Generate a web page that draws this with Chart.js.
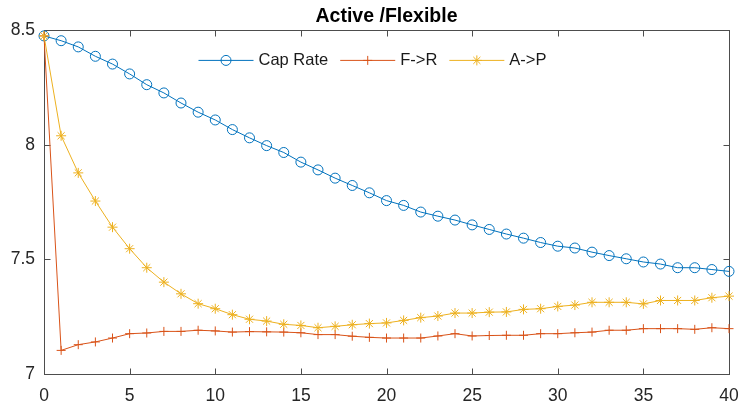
<!DOCTYPE html>
<html>
<head>
<meta charset="utf-8">
<script src="https://cdn.jsdelivr.net/npm/chart.js@4.4.0/dist/chart.umd.min.js"></script>
<style>
  html, body { margin:0; padding:0; background:#fff; }
  #wrap { width:741px; height:409px; }
</style>
</head>
<body>
<div id="wrap"><canvas id="chartCap" width="741" height="409"></canvas></div>
<script>
// Données
const periodes = [0,1,2,3,4,5,6,7,8,9,10,11,12,13,14,15,16,17,18,19,20,21,22,23,24,25,26,27,28,29,30,31,32,33,34,35,36,37,38,39,40];
const capRate = [8.476,8.455,8.428,8.387,8.353,8.310,8.263,8.227,8.183,8.143,8.109,8.067,8.031,7.997,7.967,7.925,7.891,7.855,7.823,7.791,7.757,7.736,7.707,7.689,7.672,7.651,7.631,7.611,7.593,7.574,7.558,7.550,7.532,7.517,7.503,7.489,7.480,7.464,7.464,7.456,7.448];
const fVersR = [8.476,7.103,7.128,7.140,7.157,7.176,7.179,7.186,7.186,7.191,7.188,7.183,7.185,7.184,7.183,7.180,7.172,7.172,7.165,7.160,7.157,7.157,7.157,7.166,7.176,7.166,7.168,7.169,7.169,7.176,7.176,7.180,7.183,7.191,7.191,7.198,7.198,7.198,7.195,7.202,7.198];
const aVersP = [8.476,8.040,7.878,7.755,7.641,7.547,7.464,7.401,7.350,7.307,7.285,7.259,7.239,7.231,7.217,7.212,7.202,7.208,7.215,7.220,7.223,7.234,7.246,7.253,7.266,7.266,7.270,7.271,7.282,7.285,7.295,7.301,7.313,7.313,7.313,7.306,7.321,7.321,7.321,7.333,7.340];
const xTicks = [0,5,10,15,20,25,30,35,40];
const yTicks = [7,7.5,8,8.5];

const police = '"Liberation Sans", Arial, Helvetica, sans-serif';
const toPts = vals => vals.map((v,i)=>({x:periodes[i], y:v}));

// cadre + graduations vers l'intérieur (style MATLAB)
const cadre = {
  id:'cadre',
  beforeDatasetsDraw(chart){
    const {ctx, chartArea:a, scales:{x,y}} = chart;
    ctx.save();
    ctx.strokeStyle='#4d4d4d'; ctx.lineWidth=1;
    const L=Math.round(a.left)+0.5, R=Math.round(a.right)+0.5, T=Math.round(a.top)+0.5, B=Math.round(a.bottom)+0.5;
    ctx.strokeRect(L,T,R-L,B-T);
    ctx.beginPath();
    xTicks.forEach(v=>{
      const px=Math.round(x.getPixelForValue(v))+0.5;
      ctx.moveTo(px,B); ctx.lineTo(px,B-6);
      ctx.moveTo(px,T); ctx.lineTo(px,T+6);
    });
    yTicks.forEach(v=>{
      const py=Math.round(y.getPixelForValue(v))+0.5;
      ctx.moveTo(L,py); ctx.lineTo(L+6,py);
      ctx.moveTo(R,py); ctx.lineTo(R-6,py);
    });
    ctx.stroke();
    ctx.restore();
  }
};

// légende horizontale dans la zone du graphique
const legende = {
  id:'legende',
  afterDraw(chart){
    const {ctx, chartArea:a} = chart;
    const ds = chart.data.datasets;
    ctx.save();
    ctx.font = '16.5px ' + police;
    const lineLen=55, gapTxt=5, gapItem=12;
    const widths = ds.map(d=>lineLen+gapTxt+ctx.measureText(d.label).width);
    const total = widths.reduce((s,w)=>s+w,0)+gapItem*(ds.length-1);
    let x0 = (a.left+a.right)/2 - 14 - total/2;
    const yc = a.top + 30;
    ds.forEach((d,i)=>{
      ctx.strokeStyle=d.borderColor; ctx.lineWidth=1;
      ctx.beginPath(); ctx.moveTo(x0,yc); ctx.lineTo(x0+lineLen,yc); ctx.stroke();
      ctx.fillStyle=d.pointBackgroundColor;
      Chart.helpers.drawPoint(ctx,{pointStyle:d.pointStyle, radius:d.pointRadius, borderWidth:1, rotation:0}, x0+lineLen/2, yc);
      ctx.fillStyle='#1a1a1a'; ctx.textBaseline='middle'; ctx.textAlign='left';
      ctx.fillText(d.label, x0+lineLen+gapTxt, yc);
      x0 += widths[i]+gapItem;
    });
    ctx.restore();
  }
};

new Chart(document.getElementById("chartCap"), {
  type:'line',
  data:{ datasets:[
    {label:"Cap Rate", data:toPts(capRate), borderColor:"#0072BD", pointBorderColor:"#0072BD", pointBackgroundColor:"rgba(0,0,0,0)",
     pointStyle:'circle', pointRadius:5, pointBorderWidth:1, borderWidth:1, order:3},
    {label:"F->R", data:toPts(fVersR), borderColor:"#D95319", pointBorderColor:"#D95319", pointBackgroundColor:"#D95319",
     pointStyle:'cross', pointRadius:4.5, pointBorderWidth:1, borderWidth:1, order:2},
    {label:"A->P", data:toPts(aVersP), borderColor:"#EDB120", pointBorderColor:"#EDB120", pointBackgroundColor:"#EDB120",
     pointStyle:'star', pointRadius:5, pointBorderWidth:1, borderWidth:1, order:1}
  ]},
  options:{
    responsive:false, animation:false, devicePixelRatio:1,
    layout:{ padding:{left:0, right:0, top:0, bottom:0} },
    elements:{ line:{tension:0}, point:{hoverRadius:5} },
    datasets:{ line:{ clip:false } },
    plugins:{
      legend:{display:false},
      tooltip:{enabled:false},
      title:{display:true, fullSize:false, text:"Active /Flexible", color:'#000',
        font:{family:police, size:19.5, weight:'bold'}, padding:{top:5, bottom:2}}
    },
    scales:{
      x:{ type:'linear', min:0, max:40,
        afterBuildTicks: s => { s.ticks = xTicks.map(v=>({value:v})); },
        afterFit: s => { s.height = 35; s.paddingRight = 12; s.paddingLeft = 0; },
        grid:{display:false, drawTicks:false}, border:{display:false},
        ticks:{ color:'#262626', padding:12, maxRotation:0, callback: v => String(v), font:{family:police, size:17.5} } },
      y:{ min:7, max:8.5,
        afterBuildTicks: s => { s.ticks = yTicks.map(v=>({value:v})); },
        afterFit: s => { s.width = 44; },
        grid:{display:false, drawTicks:false}, border:{display:false},
        ticks:{ color:'#262626', padding:9, callback: v => String(v), font:{family:police, size:17.5} } }
    }
  },
  plugins:[cadre, legende]
});
</script>
</body>
</html>
